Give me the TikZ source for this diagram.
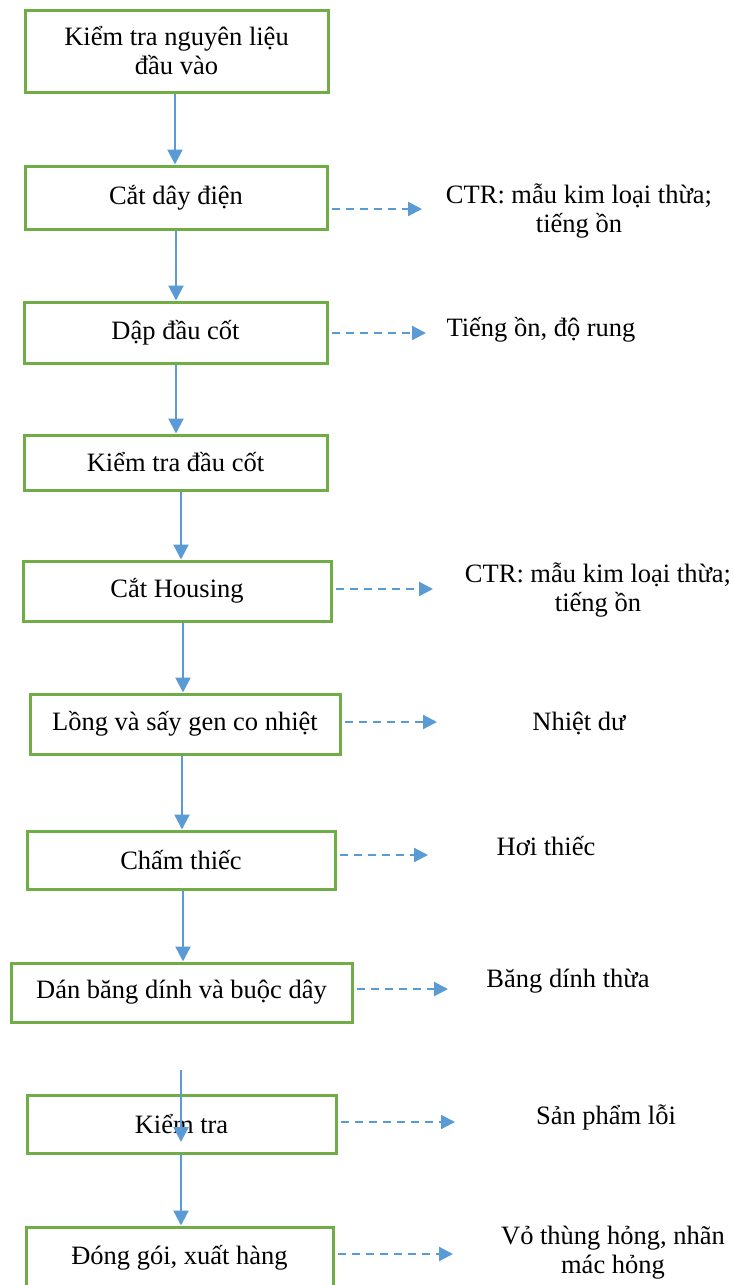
\documentclass[tikz,border=0pt]{standalone}
\usepackage{fontspec}
\setmainfont{Liberation Serif}
\usetikzlibrary{arrows.meta}
\definecolor{boxgreen}{RGB}{112,173,71}
\definecolor{arrowblue}{RGB}{91,155,213}
\newcommand{\fs}{\fontsize{26.5}{29}\selectfont}
\begin{document}
\begin{tikzpicture}[x=1pt,y=-1pt,
  box/.style={draw=boxgreen, line width=3pt, fill=white, inner sep=0pt, align=center, font=\fs},
  flow/.style={draw=arrowblue, line width=2.3pt, -{Triangle[length=15pt,width=15pt]}},
  outarrow/.style={draw=arrowblue, line width=2.2pt, dash pattern=on 8pt off 6pt, shorten <=3pt, -{Triangle[length=14pt,width=14pt]}},
  lbl/.style={inner sep=0pt, font=\fs, anchor=base},
  lbltwo/.style={inner sep=0pt, font=\fs, anchor=base, align=center}]
\useasboundingbox (0,0) rectangle (733,1285);
% boxes
\node[box, minimum width=303pt, minimum height=82pt] (b1) at (176.5,51) {Kiểm tra nguyên liệu\\đầu vào};
\node[box, minimum width=302pt, minimum height=63pt] (b2) at (176,197.5) {Cắt dây điện};
\node[box, minimum width=303pt, minimum height=61pt] (b3) at (175.5,332.5) {Dập đầu cốt};
\node[box, minimum width=303pt, minimum height=55pt] (b4) at (175.5,462.5) {Kiểm tra đầu cốt};
\node[box, minimum width=308pt, minimum height=60pt] (b5) at (177,591) {Cắt Housing};
\node[box, minimum width=310pt, minimum height=60pt] (b6) at (185,724) {Lồng và sấy gen co nhiệt};
\node[box, minimum width=308pt, minimum height=58pt] (b7) at (181,860) {Chấm thiếc};
\node[box, minimum width=341pt, minimum height=59pt] (b8) at (181.5,992.5) {Dán băng dính và buộc dây};
\node[box, minimum width=309pt, minimum height=58pt] (b9) at (181.5,1124) {Kiểm tra};
\node[box, minimum width=307pt, minimum height=62pt] (b10) at (179.5,1258) {Đóng gói, xuất hàng};
% vertical flow
\draw[flow] ([xshift=-1.5pt]b1.south) -- ([xshift=-1pt]b2.north);
\draw[flow] (b2.south) -- ([xshift=0.5pt]b3.north);
\draw[flow] ([xshift=0.5pt]b3.south) -- ([xshift=0.5pt]b4.north);
\draw[flow] ([xshift=5.5pt]b4.south) -- ([xshift=4pt]b5.north);
\draw[flow] ([xshift=6pt]b5.south) -- ([xshift=-2pt]b6.north);
\draw[flow] ([xshift=-3pt]b6.south) -- ([xshift=1pt]b7.north);
\draw[flow] ([xshift=2pt]b7.south) -- ([xshift=1.5pt]b8.north);
\coordinate (c89) at (181,1070);
\coordinate (c9in) at (181,1142);
\draw[flow] (c89) -- (c9in);
\draw[flow] ([xshift=-0.5pt]b9.south) -- ([xshift=1.5pt]b10.north);
% dashed outputs
\coordinate (e2) at (422,209);
\coordinate (e3) at (426,333);
\coordinate (e5) at (433,589);
\coordinate (e6) at (437,722);
\coordinate (e7) at (428,855);
\coordinate (e8) at (448,989);
\coordinate (e9) at (455,1122);
\coordinate (e10) at (453,1254);
\draw[outarrow] (b2.east |- e2) -- (e2);
\draw[outarrow] (b3.east |- e3) -- (e3);
\draw[outarrow] (b5.east |- e5) -- (e5);
\draw[outarrow] (b6.east |- e6) -- (e6);
\draw[outarrow] (b7.east |- e7) -- (e7);
\draw[outarrow] (b8.east |- e8) -- (e8);
\draw[outarrow] (b9.east |- e9) -- (e9);
\draw[outarrow] (b10.east |- e10) -- (e10);
% labels
\node[lbltwo] (l2) at (579,232) {CTR: mẫu kim loại thừa;\\tiếng ồn};
\node[lbl] (l3) at (541,336) {Tiếng ồn, độ rung};
\node[lbltwo] (l5) at (598,611) {CTR: mẫu kim loại thừa;\\tiếng ồn};
\node[lbl] (l6) at (579,730) {Nhiệt dư};
\node[lbl] (l7) at (546,855) {Hơi thiếc};
\node[lbl] (l8) at (568,987) {Băng dính thừa};
\node[lbl] (l9) at (606,1124) {Sản phẩm lỗi};
\node[lbltwo] (l10) at (613,1273) {Vỏ thùng hỏng, nhãn\\mác hỏng};
\end{tikzpicture}
\end{document}
